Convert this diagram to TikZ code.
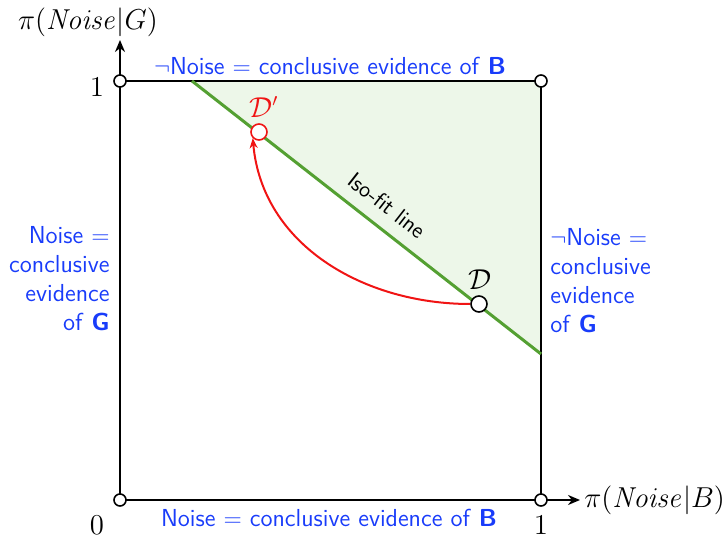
\documentclass[tikz,border=0pt]{standalone}
\usepackage{amsmath}
\usetikzlibrary{arrows.meta}
\definecolor{txtblue}{RGB}{25,60,250}
\definecolor{isogreen}{RGB}{84,160,50}
\definecolor{isofillc}{RGB}{237,247,233}
\definecolor{arrred}{RGB}{240,20,20}
\tikzset{
  axis/.style={line width=1.2pt, black},
  corner/.style={circle, draw=black, fill=white, line width=0.8pt, minimum size=6pt, inner sep=0pt},
  pt/.style={circle, draw=#1, fill=white, line width=0.8pt, minimum size=8pt, inner sep=0pt},
  bluetxt/.style={text=txtblue, font=\sffamily\fontsize{12.3}{14.5}\selectfont, inner sep=0pt},
  mathlbl/.style={font=\fontsize{15}{17}\selectfont, inner sep=0pt},
  dlbl/.style={font=\fontsize{13.5}{16}\selectfont, inner sep=0pt},
  isoline/.style={isogreen, line width=1.5pt},
  redarrow/.style={arrred, line width=1pt, -{Stealth[length=5pt,width=4pt]}},
}
\begin{document}
\begin{tikzpicture}[x=0.5pt,y=-0.5pt]
\useasboundingbox (0,0) rectangle (724,535);
\coordinate (O) at (120,500);
\coordinate (TL) at (120,81);
\coordinate (TR) at (541,81);
\coordinate (BR) at (541,500);
\coordinate (P) at (192,81);
\coordinate (Q) at (541,354);
\coordinate (ytip) at (120,40);
\coordinate (xtip) at (580,500);
\fill[isofillc] (P) -- (TR) -- (Q) -- cycle;
\draw[axis] (TL) -- (TR) -- (BR);
\draw[axis,-{Stealth[length=6pt,width=5pt]}] (O) -- (ytip);
\draw[axis,-{Stealth[length=6pt,width=5pt]}] (O) -- (xtip);
\draw[isoline] (P) -- (Q) node[pos=0.52, sloped, above=3pt, text=black, font=\sffamily\fontsize{11.3}{13}\selectfont] (iso) {Iso-fit line};
\node[corner] (cO) at (O) {};
\node[corner] (cTL) at (TL) {};
\node[corner] (cTR) at (TR) {};
\node[corner] (cBR) at (BR) {};
\node[pt=black] (D) at (479,304) {};
\node[pt=arrred] (Dp) at (259,132) {};
\node[dlbl] (Dl) at (480,280) {$\mathcal{D}$};
\node[dlbl, text=arrred] (Dpl) at (264,107) {$\mathcal{D}'$};
\draw[redarrow] (D.west) to[out=180,in=-85] (Dp.south west);
\node[mathlbl] (yl) at (88,22) {$\pi(\mathit{Noise}|G)$};
\node[mathlbl, anchor=west] (xl) at (584,500) {$\pi(\mathit{Noise}|B)$};
\node[mathlbl] (one1) at (97,87) {$1$};
\node[mathlbl] (zero) at (97,525) {$0$};
\node[mathlbl] (one2) at (541,525) {$1$};
\node[bluetxt] (top) at (330,66) {$\neg$Noise $=$ conclusive evidence of \textbf{B}};
\node[bluetxt] (bot) at (329,518) {Noise $=$ conclusive evidence of \textbf{B}};
\node[bluetxt, align=right, anchor=east] (lft) at (110,279) {Noise $=$\\conclusive\\evidence\\of \textbf{G}};
\node[bluetxt, align=left, anchor=west] (rgt) at (550,281) {$\neg$Noise $=$\\conclusive\\evidence\\of \textbf{G}};
\end{tikzpicture}
\end{document}
